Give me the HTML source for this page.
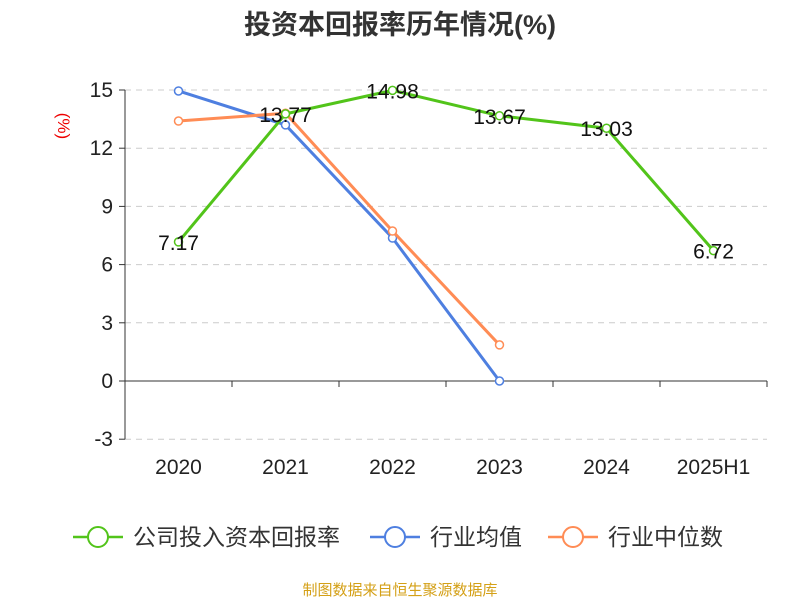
<!DOCTYPE html>
<html><head><meta charset="utf-8"><style>
body{margin:0;background:#fff;}
svg{display:block;font-family:"Liberation Sans","Noto Sans CJK SC",sans-serif;}
</style></head><body>
<svg id="chart" width="800" height="600">
<text x="400" y="34" text-anchor="middle" font-size="27" font-weight="bold" fill="#333">投资本回报率历年情况(%)</text>
<text x="58" y="126" text-anchor="middle" font-size="17" fill="#e00" transform="rotate(90 58 126)">(%)</text>
<g id="grid"></g><g id="axes"></g><g id="series"></g>
<g font-size="23" fill="#333">
 <g><line x1="73" y1="537" x2="123" y2="537" stroke="#52c41a" stroke-width="2.5"/><circle cx="98" cy="537" r="10" fill="#fff" stroke="#52c41a" stroke-width="2"/><text x="133" y="545">公司投入资本回报率</text></g>
 <g><line x1="370" y1="537" x2="420" y2="537" stroke="#4e7fe0" stroke-width="2.5"/><circle cx="395" cy="537" r="10" fill="#fff" stroke="#4e7fe0" stroke-width="2"/><text x="430" y="545">行业均值</text></g>
 <g><line x1="548" y1="537" x2="598" y2="537" stroke="#ff8c55" stroke-width="2.5"/><circle cx="573" cy="537" r="10" fill="#fff" stroke="#ff8c55" stroke-width="2"/><text x="608" y="545">行业中位数</text></g>
</g>
<text x="400" y="595" text-anchor="middle" font-size="15" fill="#d4a017">制图数据来自恒生聚源数据库</text>
</svg>
<script>
const categories=["2020","2021","2022","2023","2024","2025H1"];
const companyValues=[7.17,13.77,14.98,13.67,13.03,6.72];
const industryAvg=[14.95,13.2,7.37,0];
const industryMedian=[13.4,13.8,7.73,1.86];
const yTicks=[-3,0,3,6,9,12,15];
const NS="http://www.w3.org/2000/svg";
const L=125,R=767,y0=381,pxPerUnit=19.4;
const bw=(R-L)/categories.length;
const xs=i=>L+bw*(i+0.5);
const ys=v=>y0-v*pxPerUnit;
function mk(tag,attrs,parent,text){const e=document.createElementNS(NS,tag);for(const k in attrs)e.setAttribute(k,attrs[k]);if(text!=null)e.textContent=text;parent.appendChild(e);return e;}
const grid=document.getElementById('grid'),axes=document.getElementById('axes'),ser=document.getElementById('series');
yTicks.forEach(t=>{
 if(t!==0){const g=mk('line',{x1:L,x2:R,y1:ys(t),y2:ys(t),stroke:'#ccc','stroke-dasharray':'6,5'},grid);
 
 }
 mk('line',{x1:L-6,x2:L,y1:ys(t),y2:ys(t),stroke:'#333'},axes);
 const tl=mk('text',{x:L-12,y:ys(t)+7,'text-anchor':'end','font-size':21,fill:'#222'},axes,String(t));
 
 
});
mk('line',{x1:L,x2:L,y1:ys(15),y2:ys(-3),stroke:'#333'},axes);
mk('line',{x1:L,x2:R,y1:y0,y2:y0,stroke:'#333'},axes);
for(let i=0;i<=categories.length;i++)mk('line',{x1:L+bw*i,x2:L+bw*i,y1:y0,y2:y0+6,stroke:'#333'},axes);
categories.forEach((c,i)=>{const t=mk('text',{x:xs(i),y:474,'text-anchor':'middle','font-size':21,fill:'#222'},axes,c);
 
 });
function series(vals,color,name){
 const pts=vals.map((v,i)=>xs(i)+','+ys(v)).join(' ');
 const pl=mk('polyline',{points:pts,fill:'none',stroke:color,'stroke-width':3},ser);
 
 
 vals.forEach((v,i)=>{const c=mk('circle',{cx:xs(i),cy:ys(v),r:4,fill:'#fff',stroke:color,'stroke-width':1.5},ser);
  
  });
}
series(industryAvg,'#4e7fe0','industry-avg');
series(industryMedian,'#ff8c55','industry-median');
series(companyValues,'#52c41a','company');
companyValues.forEach((v,i)=>{const t=mk('text',{x:xs(i),y:ys(v)+8,'text-anchor':'middle','font-size':21,fill:'#111'},ser,v.toFixed(2));
 
 });
</script>
</body></html>
